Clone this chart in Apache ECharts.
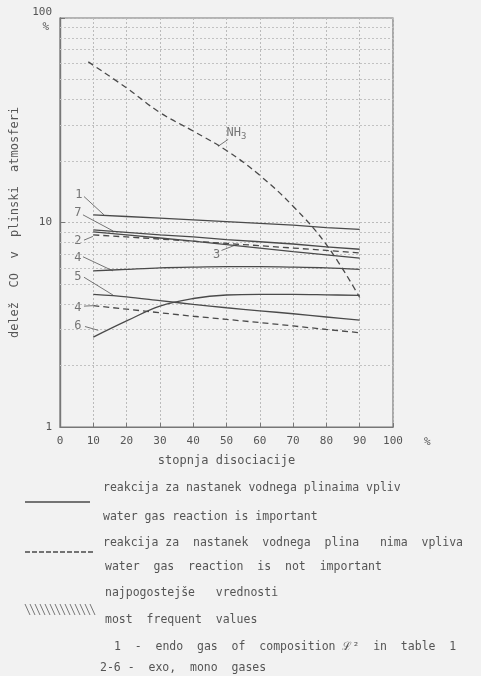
<!DOCTYPE html>
<html><head><meta charset="utf-8">
<script src="https://cdn.jsdelivr.net/npm/echarts@6/dist/echarts.min.js"></script>
<style>html,body{margin:0;padding:0;background:#f2f2f2;} #c{width:481px;height:676px;}</style>
</head><body><div id="c"></div>
<script>
// ---- data ----
const xValues = [10, 20, 30, 40, 50, 60, 70, 80, 90];
const line1 = [10.9, 10.7, 10.5, 10.3, 10.1, 9.9, 9.7, 9.45, 9.25];
const line7 = [9.2, 8.95, 8.7, 8.5, 8.25, 8.05, 7.85, 7.6, 7.4];
const line3 = [9.0, 8.7, 8.4, 8.1, 7.8, 7.5, 7.2, 6.95, 6.7];
const line2Dashed = [8.7, 8.5, 8.3, 8.1, 7.9, 7.7, 7.5, 7.3, 7.1];
const line4 = [5.8, 5.9, 6.0, 6.05, 6.08, 6.08, 6.05, 6.0, 5.9];
const line5 = [4.45, 4.33, 4.15, 3.98, 3.83, 3.7, 3.58, 3.45, 3.33];
const line6 = [2.75, 3.3, 3.9, 4.25, 4.42, 4.45, 4.45, 4.43, 4.4];
const line4Dashed = [3.92, 3.77, 3.62, 3.48, 3.36, 3.24, 3.12, 3.0, 2.89];
const nh3X = [8.5, 20, 30, 40, 50, 60, 70, 80, 90];
const nh3 = [61, 45.5, 34.5, 28, 22.5, 17, 12, 7.8, 4.3];

const yMinorGrid = [2, 3, 4, 5, 6, 7, 8, 9, 20, 30, 40, 50, 60, 70, 80, 90];

// curve labels (text, x, y in data units)
const labelTexts = ['1', '7', '2', '4', '5', '4', '6', '3'];
const labelX = [5.7, 5.4, 5.4, 5.4, 5.4, 5.4, 5.4, 47];
const labelY = [13.6, 11.1, 8.16, 6.73, 5.44, 3.83, 3.13, 6.97];
// leader lines: [x1, y1, x2, y2] in data units
const leaders = [
  [7.2, 13.4, 13.2, 10.9],
  [6.9, 10.9, 15.9, 9.1],
  [7.2, 8.2, 9.9, 8.55],
  [6.9, 6.8, 15.9, 5.8],
  [7.2, 5.4, 15.9, 4.42],
  [7.2, 3.9, 9.9, 3.92],
  [7.5, 3.1, 11.5, 2.97],
  [48.5, 7.3, 53.5, 7.85],
  [50.5, 25.5, 47.5, 23.6]
];

const C = '#4a4a4a';
const TXT = '#555';
const FONT = 'DejaVu Sans Mono';

function pts(xs, ys) { return xs.map((x, i) => [x, ys[i]]); }
function curve(name, ys, dashed, xs, smooth) {
  return {
    name: name, type: 'line', data: pts(xs || xValues, ys), symbol: 'none',
    smooth: smooth || false,
    lineStyle: { color: C, width: 1.3, type: dashed ? [6, 4] : 'solid' },
    silent: true, z: 5
  };
}

const chart = echarts.init(document.getElementById('c'));

const hatch = [];
for (let x = 25; x <= 90; x += 5) {
  hatch.push({ type: 'line', shape: { x1: x, y1: 604, x2: x + 5, y2: 615 }, style: { stroke: '#777', lineWidth: 1 } });
}
function legendText(x, y, t) {
  return { type: 'text', x: x, y: y, style: { text: t, fill: TXT, font: '11.5px "' + FONT + '"', textVerticalAlign: 'middle' } };
}

chart.setOption({
  backgroundColor: '#f2f2f2',
  animation: false,
  grid: { left: 60, right: 88, top: 18, bottom: 249, show: true, borderColor: '#777', borderWidth: 1.2, backgroundColor: 'transparent' },
  xAxis: {
    type: 'value', min: 0, max: 100, interval: 10,
    name: 'stopnja disociacije', nameLocation: 'middle', nameGap: 28,
    nameTextStyle: { color: TXT, fontFamily: FONT, fontSize: 12 },
    axisLine: { lineStyle: { color: '#777', width: 1.2 } },
    axisTick: { inside: true, length: 4, lineStyle: { color: '#777' } },
    axisLabel: { color: TXT, fontFamily: FONT, fontSize: 11, margin: 9 },
    splitLine: { show: true, lineStyle: { color: '#bbb', type: [2, 2], width: 1 } }
  },
  yAxis: {
    type: 'log', logBase: 10, min: 1, max: 100,
    name: 'delež  CO  v  plinski  atmosferi', nameLocation: 'middle', nameGap: 23,
    nameTextStyle: { color: TXT, fontFamily: FONT, fontSize: 12 },
    axisLine: { lineStyle: { color: '#777', width: 1.4 } },
    axisTick: { inside: true, length: 5, lineStyle: { color: '#777' } },
    axisLabel: {
      color: TXT, fontFamily: FONT, fontSize: 11, margin: 8,
      formatter: v => (v === 100 ? '{a|100}\n{b|%}' : String(v)),
      rich: {
        a: { color: TXT, fontFamily: FONT, fontSize: 11, lineHeight: 18, padding: [6, 0, 0, 0] },
        b: { color: TXT, fontFamily: FONT, fontSize: 11, lineHeight: 18, padding: [0, 3, 0, 0] }
      }
    },
    splitLine: { show: true, lineStyle: { color: '#bbb', type: [2, 2], width: 1 } }
  },
  series: [
    {
      name: 'grid', type: 'line', data: [], silent: true,
      markLine: {
        silent: true, symbol: 'none', label: { show: false },
        lineStyle: { color: '#c2c2c2', type: [2, 2], width: 1 },
        data: yMinorGrid.map(v => ({ yAxis: v }))
      }
    },
    curve('1', line1),
    curve('7', line7),
    curve('3', line3),
    curve('2', line2Dashed, true),
    curve('4', line4, false, null, 0.3),
    curve('5', line5, false, null, 0.3),
    curve('6', line6, false, null, 0.4),
    curve('4 dashed', line4Dashed, true),
    curve('NH3', nh3, true, nh3X, 0.4),
    {
      name: 'labels', type: 'scatter', symbolSize: 0, silent: true,
      data: labelTexts.map((t, i) => ({ name: t, value: [labelX[i], labelY[i]] })),
      label: { show: true, position: 'inside', formatter: p => p.name, color: TXT, fontFamily: FONT, fontSize: 12 },
      markLine: {
        silent: true, symbol: 'none', label: { show: false },
        lineStyle: { color: '#666', type: 'solid', width: 0.9 },
        data: leaders.map(l => [{ coord: [l[0], l[1]] }, { coord: [l[2], l[3]] }])
      }
    },
    {
      name: 'nh3label', type: 'scatter', symbolSize: 0, silent: true,
      data: [{ name: 'NH3', value: [53, 27.5] }],
      label: {
        show: true, position: 'inside', formatter: '{a|NH}{b|3}',
        rich: {
          a: { color: TXT, fontFamily: FONT, fontSize: 12 },
          b: { color: TXT, fontFamily: FONT, fontSize: 9, padding: [7, 0, 0, 0] }
        }
      }
    }
  ],
  graphic: [
    { type: 'line', shape: { x1: 25, y1: 502, x2: 90, y2: 502 }, style: { stroke: C, lineWidth: 1.3 } },
    { type: 'line', shape: { x1: 25, y1: 552, x2: 95, y2: 552 }, style: { stroke: C, lineWidth: 1.3, lineDash: [5, 2] } },
    { type: 'group', children: hatch },
    legendText(103, 488, 'reakcija za nastanek vodnega plinaima vpliv'),
    legendText(103, 517, 'water gas reaction is important'),
    legendText(103, 543, 'reakcija za  nastanek  vodnega  plina   nima  vpliva'),
    legendText(105, 567, 'water  gas  reaction  is  not  important'),
    legendText(105, 593, 'najpogostejše   vrednosti'),
    legendText(105, 620, 'most  frequent  values'),
    legendText(107, 647, ' 1  -  endo  gas  of  composition ℒ²  in  table  1'),
    legendText(100, 668, '2-6 -  exo,  mono  gases'),
    { type: 'text', x: 424, y: 442, style: { text: '%', fill: TXT, font: '11px "' + FONT + '"', textVerticalAlign: 'middle' } }
  ]
});
</script>
</body></html>
